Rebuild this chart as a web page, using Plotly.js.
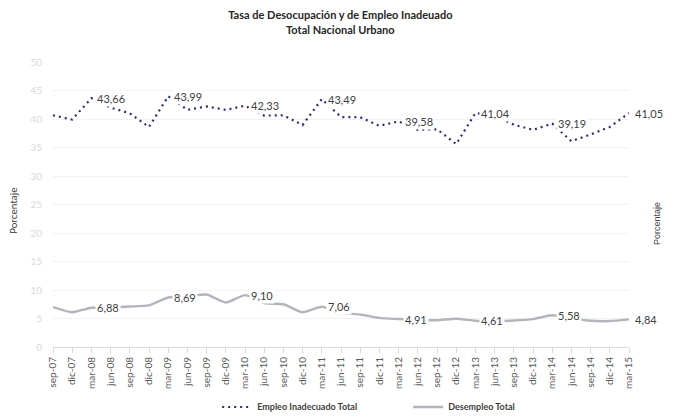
<!DOCTYPE html>
<html>
<head>
<meta charset="utf-8">
<script src="https://cdn.plot.ly/plotly-3.0.1.min.js"></script>
<style>html,body{margin:0;padding:0;background:#fff;}#chart{width:678px;height:420px;}</style>
</head>
<body>
<div id="chart"></div>
<script>
const categories = ["sep-07","dic-07","mar-08","jun-08","sep-08","dic-08","mar-09","jun-09","sep-09","dic-09","mar-10","jun-10","sep-10","dic-10","mar-11","jun-11","sep-11","dic-11","mar-12","jun-12","sep-12","dic-12","mar-13","jun-13","sep-13","dic-13","mar-14","jun-14","sep-14","dic-14","mar-15"];
const empleoInadecuado = [40.65,39.9,43.66,42.0,41.0,38.6,43.99,41.6,42.2,41.6,42.33,40.6,40.65,38.95,43.49,40.35,40.3,38.8,39.58,38.1,38.2,35.6,41.04,40.6,39.0,38.1,39.19,36.1,37.3,38.6,41.05];
const desempleo = [7.0,6.1,6.88,6.95,7.1,7.3,8.69,8.9,9.2,7.8,9.10,7.7,7.5,6.1,7.06,6.0,5.7,5.1,4.91,4.75,4.7,4.96,4.61,4.55,4.65,4.9,5.58,5.05,4.6,4.55,4.84];
const labelIdx = [2,6,10,14,18,22,26,30];
const yTicks = [0,5,10,15,20,25,30,35,40,45,50];

const fmt = v => v.toFixed(2).replace('.', ',');
const FONT = 'Lato, "Open Sans", sans-serif';

const traces = [
  {x: categories, y: empleoInadecuado, type: 'scatter', mode: 'lines', name: 'Empleo Inadecuado Total',
   line: {color: '#2f2c75', width: 2.2, dash: '2px,4px'}},
  {x: categories, y: desempleo, type: 'scatter', mode: 'lines', name: 'Desempleo Total',
   line: {color: '#b4b4bc', width: 2.4, shape: 'spline', smoothing: 0.6}}
];

const annotations = [];
labelIdx.forEach(i => {
  [empleoInadecuado, desempleo].forEach(arr => {
    annotations.push({x: categories[i], y: arr[i], xref: 'x', yref: 'y', text: fmt(arr[i]),
      showarrow: false, xanchor: 'left', yanchor: 'middle', xshift: 4, bgcolor: '#ffffff', borderpad: 1,
      font: {family: FONT, size: 11, color: '#404040'}});
  });
});
annotations.push({x: -0.0694, y: 0.477, xref: 'paper', yref: 'paper', text: 'Porcentaje', showarrow: false, textangle: -90,
  xanchor: 'center', yanchor: 'middle', font: {family: FONT, size: 10, color: '#404040'}});
annotations.push({x: 1.049, y: 0.432, xref: 'paper', yref: 'paper', text: 'Porcentaje', showarrow: false, textangle: -90,
  xanchor: 'center', yanchor: 'middle', font: {family: '"Liberation Sans", Arial, sans-serif', size: 9, color: '#404040'}});

const layout = {
  width: 678, height: 420,
  margin: {l: 53, r: 49, t: 62, b: 73, autoexpand: false},
  paper_bgcolor: '#ffffff', plot_bgcolor: '#ffffff',
  title: {text: '<b>Tasa de Desocupación y de Empleo Inadeuado<br>Total Nacional Urbano</b>',
    font: {family: FONT, size: 11, color: '#262626'}, x: 0.502, xanchor: 'center', y: 0.954, yanchor: 'top'},
  showlegend: true,
  legend: {orientation: 'h', x: 0.285, xanchor: 'left', xref: 'paper', yref: 'container', y: 0.031, yanchor: 'middle',
    font: {family: FONT, size: 9, color: '#404040', weight: 'bold'}, entrywidth: 146, itemwidth: 30},
  xaxis: {type: 'category', range: [0, 30], showgrid: false, showline: true, linecolor: '#d9d9d9', linewidth: 1,
    ticks: 'outside', ticklen: 5, tickcolor: '#d9d9d9', tickangle: -90,
    tickfont: {family: FONT, size: 10, color: '#595959'}, zeroline: false, fixedrange: true},
  yaxis: {range: [0, 50], tickvals: yTicks, showgrid: true, gridcolor: '#f2f2f2', gridwidth: 1, zeroline: false,
    showline: false, tickfont: {family: FONT, size: 10, color: '#d9d9d9'}, ticklabelstandoff: 10},
  annotations: annotations
};

Plotly.newPlot('chart', traces, layout, {displayModeBar: false, staticPlot: true});
</script>
</body>
</html>
